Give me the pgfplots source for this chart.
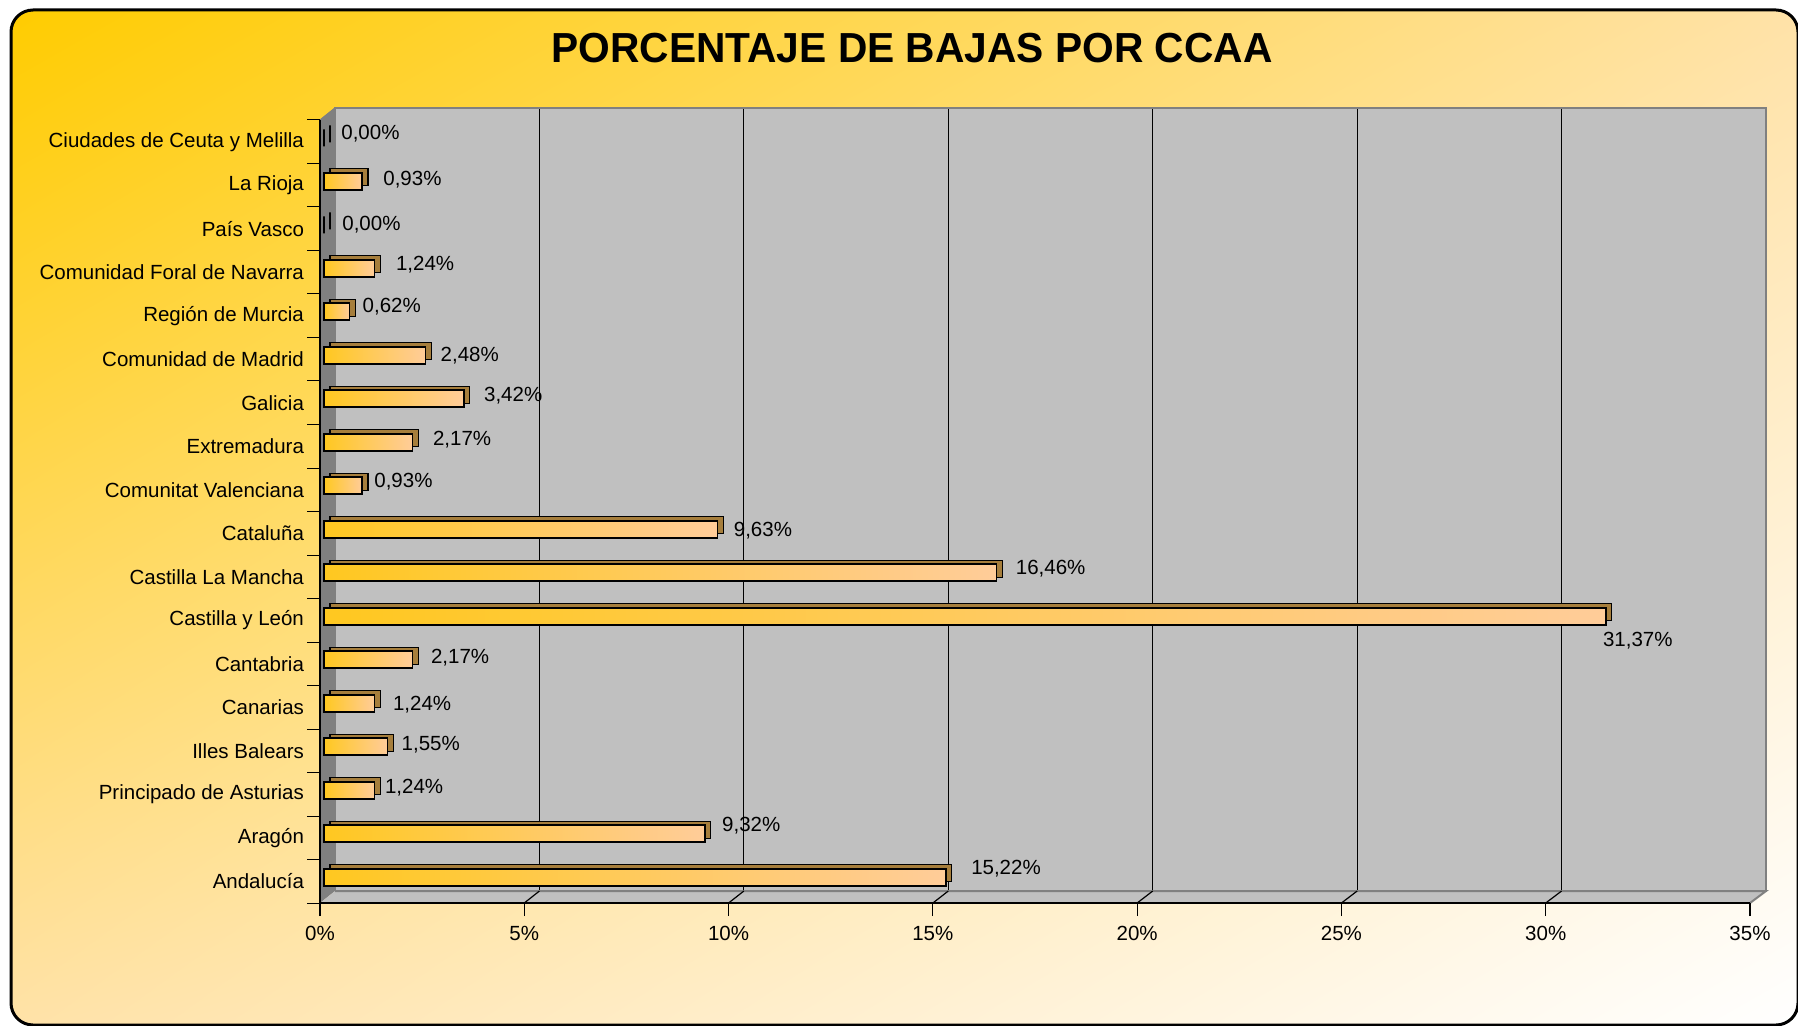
\documentclass[border=0pt]{standalone}
\usepackage{graphicx}
\usepackage{pgfplots}
\pgfplotsset{compat=1.18}
\usepackage{pgfplotstable}
\usetikzlibrary{shadings}
\usepackage{fontspec}
\setmainfont{Liberation Sans}

\definecolor{bggold}{HTML}{FFCC00}
\definecolor{bgmid}{HTML}{FFE2A8}
\definecolor{wallgray}{HTML}{C0C0C0}
\definecolor{sidegray}{HTML}{808080}
\definecolor{barL}{HTML}{FFC820}
\definecolor{barR}{HTML}{FFCC99}
\definecolor{barTop}{HTML}{A67E3C}

% i = category index (0 = Andalucia, bottom), v = percentage, dx/dy = label offset (px)
\pgfplotstableread{
i v dx dy
0 15.22 29 13
1 9.32 21 12
2 1.24 14 7
3 1.55 18 6
4 1.24 22 3
5 2.17 22 6
6 31.37 1 -20
7 16.46 23 8
8 9.63 20 3
9 0.93 16 8
10 2.17 24 7
11 3.42 24 7
12 2.48 19 4
13 0.62 17 9
14 1.24 25 8
15 0.00 22 4
16 0.93 25 6
17 0.00 21 8
}\datatable

\pgfplotsset{frontbar/.style={xbar, bar width=8.5pt, bar shift=2pt, xshift=2pt,
  left color=barL, right color=barR, draw=black, line width=0.8pt}}

\begin{document}
\begin{tikzpicture}
\useasboundingbox (0,0) rectangle (899pt,-513pt);
\begin{scope}[x=0.5pt,y=-0.5pt]
  \shade[upper left=bggold, upper right=bgmid, lower left=bgmid, lower right=white, rounded corners=11pt]
    (11,10) rectangle (1798,1025);
  \draw[line width=1.5pt, rounded corners=11pt] (11,10) rectangle (1798,1025);
  \node at (912,48) {\resizebox{360.5pt}{\height}{\fontsize{21}{25}\selectfont\bfseries PORCENTAJE DE BAJAS POR CCAA}};
\end{scope}

% back wall with gridlines
\begin{axis}[at={(167.5pt,-445.5pt)}, anchor=south west, scale only axis,
  width=715.5pt, height=391.5pt, xmin=0, xmax=35, ymin=0, ymax=1,
  xtick={5,10,...,30}, xticklabel={\phantom{0}}, ytick=\empty,
  xmajorgrids, major grid style={black, line width=0.6pt},
  tick style={draw=none},
  axis line style={sidegray, line width=1pt},
  axis background/.style={fill=wallgray}]
\end{axis}

\begin{scope}[x=0.5pt,y=-0.5pt]
  \fill[sidegray] (320,120) -- (335,108) -- (335,891) -- (320,903) -- cycle;
  \fill[wallgray] (320,903) -- (335,891) -- (1766,891) -- (1750,903) -- cycle;
  \draw[sidegray, line width=1pt] (335,891) -- (1766,891) -- (1750,903);
  \draw[sidegray, line width=0.6pt] (320,120) -- (335,108);
  \foreach \k in {1,...,6}
    \draw[line width=0.6pt] ({320+204.29*\k},903) -- ({335+204.43*\k},891);
  \foreach \j in {0,...,18}
    \draw[line width=0.5pt] (307,{120+43.5*\j}) -- (320,{120+43.5*\j});
\end{scope}

% front plane with bars
\begin{axis}[at={(160pt,-451.5pt)}, anchor=south west, scale only axis,
  width=715pt, height=391.5pt, xmin=0, xmax=35, ymin=-0.5, ymax=17.5,
  clip=false,
  axis x line*=bottom, axis y line*=left,
  axis line style={black, line width=0.8pt, -},
  xtick={0,5,...,35},
  xticklabels={0\%,5\%,10\%,15\%,20\%,25\%,30\%,35\%},
  tick align=outside, major tick length=6.5pt,
  xtick style={black, line width=0.6pt},
  xticklabel style={yshift=-1.5pt},
  ytick={0,...,17},
  yticklabels={Andalucía,Aragón,Principado de Asturias,Illes Balears,Canarias,Cantabria,Castilla y León,Castilla La Mancha,Cataluña,Comunitat Valenciana,Extremadura,Galicia,Comunidad de Madrid,Región de Murcia,Comunidad Foral de Navarra,País Vasco,La Rioja,Ciudades de Ceuta y Melilla},
  ytick style={draw=none},
  tick label style={font=\fontsize{10.25}{12}\selectfont},
  yticklabel style={xshift=2pt},
  ]
% 3D top/side faces
\addplot[xbar, bar width=8.5pt, bar shift=4pt, xshift=5pt, fill=barTop, draw=black, line width=0.6pt]
  table[x=v, y=i]{\datatable};
% front faces, one plot per bar so that each bar has its own gradient
\addplot[frontbar] coordinates {(15.22,0)};
\addplot[frontbar] coordinates {(9.32,1)};
\addplot[frontbar] coordinates {(1.24,2)};
\addplot[frontbar] coordinates {(1.55,3)};
\addplot[frontbar] coordinates {(1.24,4)};
\addplot[frontbar] coordinates {(2.17,5)};
\addplot[frontbar] coordinates {(31.37,6)};
\addplot[frontbar] coordinates {(16.46,7)};
\addplot[frontbar] coordinates {(9.63,8)};
\addplot[frontbar] coordinates {(0.93,9)};
\addplot[frontbar] coordinates {(2.17,10)};
\addplot[frontbar] coordinates {(3.42,11)};
\addplot[frontbar] coordinates {(2.48,12)};
\addplot[frontbar] coordinates {(0.62,13)};
\addplot[frontbar] coordinates {(1.24,14)};
\addplot[xbar, bar width=8.5pt, bar shift=2pt, xshift=2pt, fill=barL, draw=black, line width=0.6pt]
  coordinates {(0,15) (0,17)};
\addplot[frontbar] coordinates {(0.93,16)};
% value labels
\addplot[xbar, bar width=0pt, bar shift=0pt, draw=none, fill=none, point meta=x,
  visualization depends on=\thisrow{dx} \as \dx,
  visualization depends on=\thisrow{dy} \as \dy,
  nodes near coords={\pgfmathprintnumber[fixed,fixed zerofill,precision=2,use comma,assume math mode=true]{\pgfplotspointmeta}\%},
  nodes near coords style={anchor=west, inner sep=0pt, xshift=\dx*0.5pt, yshift=\dy*0.5pt,
    font=\fontsize{10.25}{12}\selectfont, text=black}]
  table[x=v, y=i]{\datatable};
\end{axis}
\end{tikzpicture}
\end{document}
